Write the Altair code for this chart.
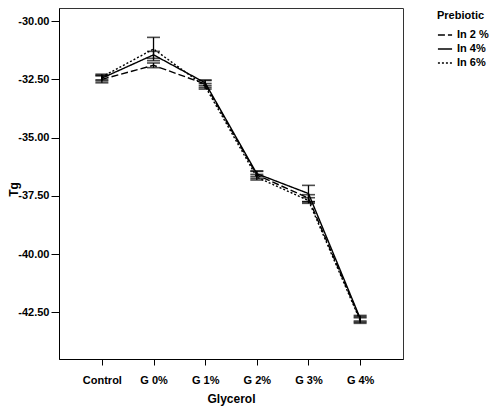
import altair as alt
import pandas as pd

categories = ["Control", "G 0%", "G 1%", "G 2%", "G 3%", "G 4%"]
series = ["In 2 %", "In 4%", "In 6%"]
mean_in2 = [-32.50, -31.90, -32.70, -36.60, -37.60, -42.80]
err_in2 = [0.15, 0.10, 0.15, 0.15, 0.15, 0.12]
mean_in4 = [-32.45, -31.45, -32.65, -36.55, -37.40, -42.75]
err_in4 = [0.12, 0.15, 0.12, 0.12, 0.35, 0.12]
mean_in6 = [-32.40, -31.20, -32.80, -36.70, -37.70, -42.85]
err_in6 = [0.12, 0.50, 0.12, 0.12, 0.12, 0.12]
y_ticks = [-30.0, -32.5, -35.0, -37.5, -40.0, -42.5]

rows = []
for s, means, errs in zip(series, [mean_in2, mean_in4, mean_in6], [err_in2, err_in4, err_in6]):
    for c, m, e in zip(categories, means, errs):
        rows.append({"Glycerol": c, "Prebiotic": s, "Tg": m, "lo": m - e, "hi": m + e})
df = pd.DataFrame(rows)

FONT = "Liberation Sans"

xenc = alt.X("Glycerol:N", sort=categories,
             scale=alt.Scale(type="point", domain=categories, padding=0.83),
             axis=alt.Axis(title="Glycerol", labelAngle=0, tickSize=6, labelPadding=9,
                           titlePadding=8, domainColor="black", tickColor="black"))
yscale = alt.Scale(domain=[-44.5, -29.44], nice=False, zero=False)

base = alt.Chart(df)

lines = base.mark_line(color="black", strokeWidth=1.4).encode(
    x=xenc,
    y=alt.Y("Tg:Q", scale=yscale,
            axis=alt.Axis(title="Tg", values=y_ticks, grid=False, tickSize=8,
                          labelExpr="(datum.value < 0 ? '-' : '') + format(abs(datum.value), '.2f')",
                          labelPadding=2, titleX=-46, titleY=181, titleBaseline="middle",
                          titleAngle=270,
                          domainColor="black", tickColor="black")),
    strokeDash=alt.StrokeDash("Prebiotic:N",
                              scale=alt.Scale(domain=series, range=[[7, 3], [1, 0], [2, 2]]),
                              legend=alt.Legend(title="Prebiotic", orient="none", legendX=378, legendY=2,
                                                symbolType="stroke", symbolStrokeColor="black",
                                                symbolSize=200, symbolStrokeWidth=1.3,
                                                rowPadding=1, titlePadding=6)),
    detail="Prebiotic:N",
)

rules = base.mark_rule(color="black", strokeWidth=1.3).encode(
    x=alt.X("Glycerol:N", sort=categories),
    y=alt.Y("lo:Q", scale=yscale),
    y2="hi:Q",
)
cap_lo = base.mark_tick(color="black", thickness=1.6, size=13, orient="horizontal").encode(
    x=alt.X("Glycerol:N", sort=categories),
    y=alt.Y("lo:Q", scale=yscale),
)
cap_hi = base.mark_tick(color="black", thickness=1.6, size=13, orient="horizontal").encode(
    x=alt.X("Glycerol:N", sort=categories),
    y=alt.Y("hi:Q", scale=yscale),
)

chart = alt.layer(lines, rules, cap_lo, cap_hi).properties(
    width=344, height=351,
    autosize=alt.AutoSizeParams(type="none"),
    padding={"left": 51, "top": 0, "right": 89, "bottom": 47},
).configure_view(
    stroke="#333", strokeWidth=1
).configure_axis(
    labelFont=FONT, labelFontWeight="bold", labelFontSize=11, labelColor="black",
    titleFont=FONT, titleFontWeight="bold", titleFontSize=12, titleColor="black",
).configure_legend(
    titleFont=FONT, titleFontWeight="bold", titleFontSize=11, titleColor="black",
    labelFont=FONT, labelFontWeight="bold", labelFontSize=11, labelColor="black",
)

chart.save("out.html", embed_options={"renderer": "svg", "actions": False})
